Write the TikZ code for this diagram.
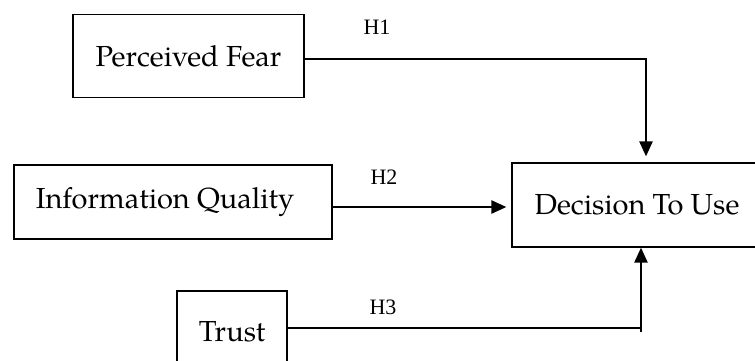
\documentclass[tikz,border=0pt]{standalone}
\usepackage{fontspec}
\setmainfont{TeX Gyre Pagella}
\newfontfamily\hfont{Liberation Serif}
\usetikzlibrary{arrows.meta}
\begin{document}
\begin{tikzpicture}[x=1pt,y=-1pt,
  box/.style={draw=black,line width=1.2pt,inner sep=0pt,font=\fontsize{29}{34}\selectfont},
  conn/.style={draw=black,line width=2.4pt},
  arr/.style={conn,-{Triangle[length=15pt,width=13pt]}},
  hlab/.style={font=\hfont\fontsize{22}{26}\selectfont,inner sep=0pt}]
\useasboundingbox (0,0) rectangle (755,360);
\node[box,minimum width=231pt,minimum height=83pt] (pf) at (188.5,56) {Perceived Fear};
\node[box,minimum width=318pt,minimum height=74pt] (iq) at (173,202) {Information Quality\hspace*{16pt}};
\node[box,minimum width=250pt,minimum height=84pt] (dec) at (637,205) {Decision To Use};
\node[box,minimum width=110pt,minimum height=82pt] (tr) at (232,332) {Trust};
\node[hlab] (h1) at (377,27) {H1};
\node[hlab] (h2) at (384,177.5) {H2};
\node[hlab] (h3) at (383,307) {H3};
\coordinate (c1) at (646,59);
\coordinate (c3) at (641,328);
\coordinate (c3b) at (641,332);
\draw[arr,shorten >=6pt] (pf.east |- c1) -- (c1) -- (c1 |- dec.north);
\draw[arr,shorten >=5pt] (iq.east |- 0,207) -- (dec.west |- 0,207);
\draw[conn] (tr.east |- c3) -- (c3);
\draw[arr] (c3b) -- (c3b |- dec.south);
\end{tikzpicture}
\end{document}
